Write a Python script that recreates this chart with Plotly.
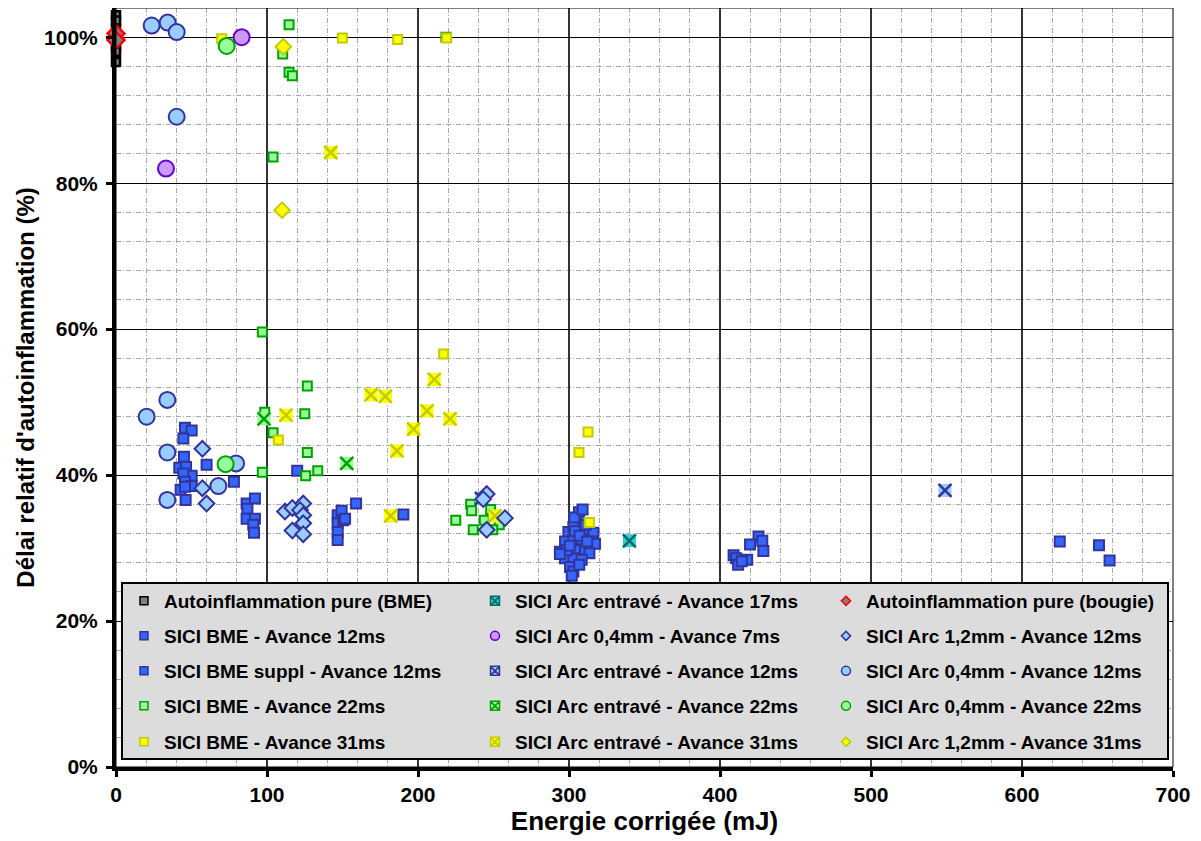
import plotly.graph_objects as go

# ---------------- DATA ----------------
auto_bme_x = [0, 0, 0, 0, 0, 0, 0, 0]
auto_bme_y = [103.0, 102.3, 101.2, 100.4, 99.6, 98.8, 98.0, 96.6]

bme12_x = [45.7, 50.1, 44.6, 45.0, 41.9, 46.4, 60.0, 50.1, 44.6, 45.7, 50.1, 42.8, 45.7, 46.1, 78.1,
           86.5, 92.0, 87.0, 86.5, 92.0, 90.9, 91.4,
           120.0, 159.0, 190.3,
           146.8, 149.4, 146.8, 150.5, 146.8, 146.8, 151.7,
           306.6, 305.0, 299.6, 302.9, 310.6, 316.1, 297.4, 302.9, 308.4, 315.0, 317.2, 294.0, 299.6,
           305.0, 310.6, 313.5, 297.4, 302.9, 308.4, 300.7, 302.9, 306.8, 301.8, 298.5, 294.0, 304.0,
           311.0, 307.0, 300.5, 312.0, 303.5, 309.0]
bme12_y = [46.5, 46.1, 45.0, 42.5, 41.0, 41.1, 41.4, 39.9, 40.2, 39.1, 38.5, 38.0, 38.4, 36.6, 39.1,
           36.1, 36.8, 35.4, 34.0, 34.0, 33.2, 32.1,
           40.6, 36.1, 34.6,
           34.5, 35.1, 33.4, 33.8, 32.2, 31.1, 34.0,
           34.9, 33.6, 32.2, 32.9, 32.1, 32.1, 30.9, 31.1, 31.2, 30.9, 30.6, 29.5, 29.5,
           29.7, 29.8, 29.3, 28.6, 28.6, 28.4, 27.4, 26.8, 27.7, 26.2, 29.7, 29.2, 32.3,
           33.2, 31.7, 30.3, 30.9, 34.2, 35.3]

bme12s_x = [425.5, 419.9, 428.0, 428.7, 409.0, 410.7, 418.0, 412.0, 414.4, 625.0, 651.0, 658.0]
bme12s_y = [31.6, 30.5, 31.0, 29.6, 29.0, 28.6, 28.4, 27.7, 28.2, 30.9, 30.4, 28.3]

bme22_x = [114.6, 110.4, 114.6, 116.8, 104.0, 218.5, 96.9, 126.7, 98.5, 125.0, 104.0, 126.7, 96.9,
           125.6, 133.6, 234.9, 235.5, 225.0, 248.1, 243.9, 253.8, 236.6, 249.5]
bme22_y = [101.7, 97.7, 95.2, 94.7, 83.6, 100.0, 59.6, 52.2, 48.6, 48.4, 45.8, 43.1, 40.4,
           39.9, 40.6, 36.0, 35.1, 33.8, 35.3, 33.8, 33.2, 32.5, 32.5]

bme31_x = [70.0, 149.9, 186.5, 219.0, 107.5, 217.0, 306.6, 312.6, 313.5]
bme31_y = [99.8, 99.9, 99.7, 99.9, 44.8, 56.6, 43.1, 45.9, 33.5]

entr17_x = [340.0]
entr17_y = [31.0]

arc04_7_x = [33.1, 83.2]
arc04_7_y = [82.0, 100.0]

entr12_x = [242.0, 549.0]
entr12_y = [36.8, 37.9]

entr22_x = [98.0, 152.8]
entr22_y = [47.7, 41.6]

entr31_x = [112.6, 142.2, 168.9, 178.4, 181.9, 186.1, 197.1, 206.0, 210.8, 221.2, 251.0]
entr31_y = [48.2, 84.2, 51.0, 50.8, 34.4, 43.3, 46.3, 48.8, 53.1, 47.7, 34.4]

bougie_x = [0, 0]
bougie_y = [100.5, 99.6]

arc12_12_x = [57.2, 57.2, 60.0, 111.9, 116.8, 124.0, 121.9, 124.0, 124.0, 116.8, 124.0,
              245.5, 243.2, 257.6, 245.5]
arc12_12_y = [43.6, 38.2, 36.1, 35.0, 35.5, 36.1, 35.2, 34.5, 33.4, 32.4, 31.9,
              37.4, 36.7, 34.1, 32.5]

arc04_12_x = [23.6, 34.2, 40.2, 40.2, 20.3, 34.0, 34.0, 34.0, 79.5, 67.8]
arc04_12_y = [101.6, 102.0, 100.7, 89.1, 48.0, 50.3, 43.1, 36.6, 41.6, 38.5]

arc04_22_x = [73.3, 72.6]
arc04_22_y = [98.8, 41.5]

arc12_31_x = [110.8, 110.0]
arc12_31_y = [98.7, 76.3]

x_ticks = [0, 100, 200, 300, 400, 500, 600, 700]
y_ticks = [0, 20, 40, 60, 80, 100]
y_tick_text = ["0%", "20%", "40%", "60%", "80%", "100%"]

# ---------------- STYLE ----------------
FONT = "Liberation Sans, Arial, sans-serif"
GRAY = "#808080"
BLUE = "#3366ff"
NAVY = "#333399"
LBLUE = "#99ccff"
LGREEN = "#99ff99"
GREEN = "#00a000"
YELLOW = "#ffff00"
YBORD = "#bfcc00"
PURPLE_F = "#cc99ff"
PURPLE = "#6600cc"
CYAN = "#33cccc"
TEAL = "#006b6b"
RED = "#ff0000"

fig = go.Figure()


def markers(x, y, name, symbol, size, fill, line, lw):
    fig.add_trace(go.Scatter(
        x=x, y=y, mode="markers", name=name, showlegend=False, cliponaxis=False,
        marker=dict(symbol=symbol, size=size, color=fill, line=dict(color=line, width=lw))))


def xmarkers(x, y, name, fill, line):
    fig.add_trace(go.Scatter(
        x=x, y=y, mode="markers", name=name, showlegend=False, cliponaxis=False,
        hoverinfo="skip",
        marker=dict(symbol="square", size=13, color=fill, line=dict(width=0))))
    fig.add_trace(go.Scatter(
        x=x, y=y, mode="markers", name=name, showlegend=False, cliponaxis=False,
        marker=dict(symbol="x-thin", size=13, color=line, line=dict(color=line, width=2.5))))


# plotted series (Excel series order)
markers(auto_bme_x, auto_bme_y, "Autoinflammation pure (BME)", "square", 8, GRAY, "black", 2.5)
markers(bme12_x, bme12_y, "SICI BME - Avance 12ms", "square", 10, BLUE, NAVY, 2)
markers(bme12s_x, bme12s_y, "SICI BME suppl - Avance 12ms", "square", 10, BLUE, NAVY, 2)
markers(bme22_x, bme22_y, "SICI BME - Avance 22ms", "square", 9, LGREEN, GREEN, 2)
markers(bme31_x, bme31_y, "SICI BME - Avance 31ms", "square", 9, YELLOW, YBORD, 2)
xmarkers(entr17_x, entr17_y, "SICI Arc entravé - Avance 17ms", CYAN, TEAL)
markers(arc04_7_x, arc04_7_y, "SICI Arc 0,4mm - Avance 7ms", "circle", 16, PURPLE_F, PURPLE, 2)
xmarkers(entr12_x, entr12_y, "SICI Arc entravé - Avance 12ms", LBLUE, NAVY)
xmarkers(entr22_x, entr22_y, "SICI Arc entravé - Avance 22ms", LGREEN, GREEN)
xmarkers(entr31_x, entr31_y, "SICI Arc entravé - Avance 31ms", YELLOW, YBORD)
markers(bougie_x, bougie_y, "Autoinflammation pure (bougie)", "diamond", 13, GRAY, RED, 2.5)
markers(arc12_12_x, arc12_12_y, "SICI Arc 1,2mm - Avance 12ms", "diamond", 12, LBLUE, NAVY, 2)
markers(arc04_12_x, arc04_12_y, "SICI Arc 0,4mm - Avance 12ms", "circle", 16, LBLUE, NAVY, 2)
markers(arc04_22_x, arc04_22_y, "SICI Arc 0,4mm - Avance 22ms", "circle", 16, LGREEN, GREEN, 2)
markers(arc12_31_x, arc12_31_y, "SICI Arc 1,2mm - Avance 31ms", "diamond", 12, YELLOW, YBORD, 2)

# legend entries (3 columns x 5 rows, each row its own legend)
legend_rows = [
    [("Autoinflammation pure (BME)", "square", 8, GRAY, "black"),
     ("SICI Arc entravé - Avance 17ms", "square-x", 9, CYAN, TEAL),
     ("Autoinflammation pure (bougie)", "diamond", 7, GRAY, RED)],
    [("SICI BME - Avance 12ms", "square", 8, BLUE, NAVY),
     ("SICI Arc 0,4mm - Avance 7ms", "circle", 9, PURPLE_F, PURPLE),
     ("SICI Arc 1,2mm - Avance 12ms", "diamond", 7, LBLUE, NAVY)],
    [("SICI BME suppl - Avance 12ms", "square", 8, BLUE, NAVY),
     ("SICI Arc entravé - Avance 12ms", "square-x", 9, LBLUE, NAVY),
     ("SICI Arc 0,4mm - Avance 12ms", "circle", 9, LBLUE, NAVY)],
    [("SICI BME - Avance 22ms", "square", 8, LGREEN, GREEN),
     ("SICI Arc entravé - Avance 22ms", "square-x", 9, LGREEN, GREEN),
     ("SICI Arc 0,4mm - Avance 22ms", "circle", 9, LGREEN, GREEN)],
    [("SICI BME - Avance 31ms", "square", 8, YELLOW, YBORD),
     ("SICI Arc entravé - Avance 31ms", "square-x", 9, YELLOW, YBORD),
     ("SICI Arc 1,2mm - Avance 31ms", "diamond", 7, YELLOW, YBORD)],
]
legend_names = ["legend", "legend2", "legend3", "legend4", "legend5"]
for lname, row in zip(legend_names, legend_rows):
    for name, sym, sz, fill, line in row:
        fig.add_trace(go.Scatter(
            x=[None], y=[None], mode="markers", name=name, legend=lname, showlegend=True,
            marker=dict(symbol=sym, size=sz, color=fill, line=dict(color=line, width=1.5))))

# The page body has an 8px margin: the figure is drawn at (8, 8) in the window.
# Target plot area in window pixels: x 116..1173, y 8..767.
OFF = 8
W, H = 1201 - OFF, 841 - OFF
L, T = 116 - OFF, 8 - OFF
R = W - (1173 - OFF)
B = H - (767 - OFF)
pw, ph = W - L - R, H - T - B


def px_to_paper_y(py):
    # py: window pixel
    return ((767 - OFF) - (py - OFF)) / ph


def px_to_paper_x(px):
    return (px - 116) / pw


legend_font = dict(family=FONT, size=19, color="black", weight="bold")
row_centers = [601, 636, 671, 706, 742]
layout_legends = {}
for lname, yc in zip(legend_names, row_centers):
    layout_legends[lname] = dict(
        orientation="h", x=px_to_paper_x(124), xanchor="left",
        y=px_to_paper_y(yc), yanchor="middle",
        bgcolor="rgba(0,0,0,0)", borderwidth=0,
        entrywidth=306, entrywidthmode="pixels",
        font=legend_font, traceorder="normal", itemsizing="trace")

tick_font = dict(family=FONT, size=21, color="black", weight="bold")
xtitle_font = dict(family=FONT, size=26, color="black", weight="bold")
ytitle_font = dict(family=FONT, size=24, color="black", weight="bold")

fig.update_layout(
    width=W, height=H,
    margin=dict(l=L, r=R, t=T, b=B, pad=0, autoexpand=False),
    paper_bgcolor="white", plot_bgcolor="white",
    font=dict(family=FONT, color="black"),
    hovermode="closest",
    **layout_legends,
    xaxis=dict(
        range=[0, 700], tickvals=x_ticks, showgrid=True, gridcolor="#333333", gridwidth=1.5,
        zeroline=False, showline=True, linecolor="black", linewidth=4,
        ticks="outside", ticklen=6, tickwidth=3, tickcolor="black",
        tickfont=tick_font, automargin=False,
        minor=dict(dtick=20, tick0=0, showgrid=True, gridcolor="#a8a8a8", gridwidth=1,
                   griddash="5px,2px,1px,2px", ticks=""),
        title=dict(text="Energie corrigée (mJ)", font=xtitle_font, standoff=8),
    ),
    yaxis=dict(
        range=[0, 104], tickvals=y_ticks, ticktext=y_tick_text, showgrid=True,
        gridcolor="black", gridwidth=1,
        zeroline=False, showline=True, linecolor="black", linewidth=4,
        ticks="outside", ticklen=6, tickwidth=3, tickcolor="black",
        tickfont=tick_font, ticklabelstandoff=4, automargin=False,
        minor=dict(dtick=4, tick0=0, showgrid=True, gridcolor="#a8a8a8", gridwidth=1,
                   griddash="5px,2px,1px,2px", ticks=""),
        title=dict(text="Délai relatif d'autoinflammation (%)", font=ytitle_font, standoff=4),
    ),
    shapes=[
        # plot-area frame (top / right)
        dict(type="rect", xref="paper", yref="paper", x0=0, x1=1, y0=0, y1=1,
             line=dict(color="black", width=1), fillcolor="rgba(0,0,0,0)", layer="above"),
        # legend box
        dict(type="rect", xref="paper", yref="paper",
             x0=px_to_paper_x(122), x1=px_to_paper_x(1168),
             y0=px_to_paper_y(759), y1=px_to_paper_y(583),
             line=dict(color="black", width=2), fillcolor="#dcdcdc", layer="above"),
    ],
)

fig.write_html("out.html")
